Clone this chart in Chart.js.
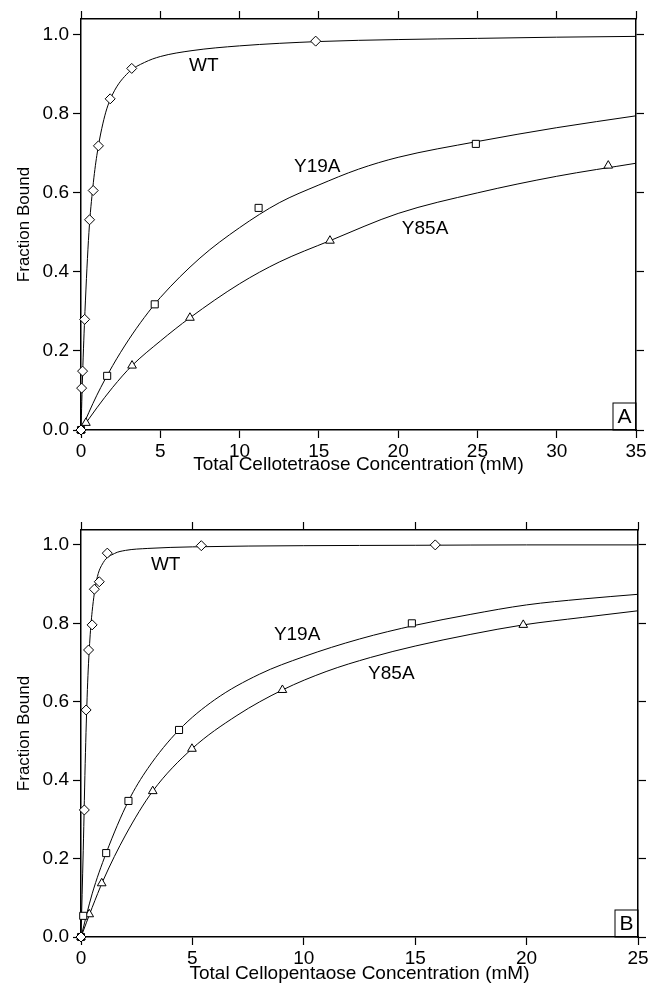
<!DOCTYPE html>
<html>
<head>
<meta charset="utf-8">
<script src="https://cdn.jsdelivr.net/npm/chart.js@4.4.0/dist/chart.umd.min.js"></script>
<style>
  body { margin:0; background:#fff; }
  .panel { position:absolute; left:0; }
</style>
</head>
<body>
<div class="panel" style="top:0px"><canvas id="chartA" width="660" height="490"></canvas></div>
<div class="panel" style="top:490px"><canvas id="chartB" width="660" height="502"></canvas></div>
<script>
// panel A - cellotetraose, measured points
const aWtX  = [0, 0.04, 0.1, 0.23, 0.54, 0.77, 1.1, 1.84, 3.2, 14.8];
const aWtY  = [0, 0.106, 0.149, 0.28, 0.532, 0.606, 0.719, 0.838, 0.915, 0.984];
const aY19X = [0, 1.65, 4.65, 11.2, 24.9];
const aY19Y = [0, 0.137, 0.318, 0.562, 0.724];
const aY85X = [0, 0.31, 3.22, 6.87, 15.7, 33.25];
const aY85Y = [0, 0.018, 0.163, 0.284, 0.479, 0.669];
// panel A fitted curves
const aWtFitX  = [0, 0.1, 0.25, 0.5, 0.75, 1, 1.5, 2, 3, 4, 5, 7, 10, 15, 20, 25, 30, 35];
const aWtFitY  = [0, 0.14, 0.3, 0.5, 0.615, 0.695, 0.795, 0.85, 0.905, 0.93, 0.945, 0.96, 0.972, 0.983, 0.988, 0.991, 0.994, 0.996];
const aY19FitX = [0, 1, 2, 3, 4, 5, 7.5, 10, 12.5, 15, 17.5, 20, 25, 30, 35];
const aY19FitY = [0, 0.088, 0.163, 0.228, 0.285, 0.335, 0.435, 0.512, 0.575, 0.62, 0.66, 0.69, 0.73, 0.765, 0.795];
const aY85FitX = [0, 1, 2, 3.22, 5, 6.87, 10, 12.5, 15.7, 20, 25, 30, 35];
const aY85FitY = [0, 0.056, 0.108, 0.163, 0.225, 0.284, 0.37, 0.425, 0.479, 0.548, 0.6, 0.642, 0.675];

// panel B - cellopentaose, measured points
const bWtX  = [0, 0.15, 0.23, 0.34, 0.5, 0.6, 0.82, 1.18, 5.4, 15.9];
const bWtY  = [0, 0.324, 0.579, 0.732, 0.796, 0.887, 0.906, 0.979, 0.998, 1.0];
const bY19X = [0, 0.1, 1.13, 2.13, 4.4, 14.85];
const bY19Y = [0, 0.054, 0.214, 0.347, 0.528, 0.8];
const bY85X = [0, 0.37, 0.93, 3.22, 4.98, 9.04, 19.85];
const bY85Y = [0, 0.058, 0.137, 0.372, 0.48, 0.63, 0.796];
// panel B fitted curves
const bWtFitX  = [0, 0.1, 0.2, 0.3, 0.4, 0.5, 0.7, 1, 1.5, 2, 3, 5, 10, 15, 20, 25];
const bWtFitY  = [0, 0.22, 0.47, 0.65, 0.76, 0.83, 0.91, 0.955, 0.978, 0.986, 0.991, 0.995, 0.998, 0.999, 1.0, 1.0];
const bY19FitX = [0, 0.5, 1.13, 2.13, 3, 4.4, 6, 8, 10, 12.5, 15, 17.5, 20, 22.5, 25];
const bY19FitY = [0, 0.11, 0.214, 0.347, 0.43, 0.528, 0.605, 0.67, 0.715, 0.76, 0.795, 0.823, 0.847, 0.862, 0.874];
const bY85FitX = [0, 0.5, 1, 2, 3.22, 4.98, 7, 9.04, 11, 13, 15, 17.5, 19.85, 22.5, 25];
const bY85FitY = [0, 0.075, 0.145, 0.26, 0.372, 0.48, 0.565, 0.63, 0.677, 0.713, 0.742, 0.772, 0.796, 0.815, 0.832];

// ticks
const yTicks  = [0, 0.2, 0.4, 0.6, 0.8, 1.0];
const xTicksA = [0, 5, 10, 15, 20, 25, 30, 35];
const xTicksB = [0, 5, 10, 15, 20, 25];
const seriesNames = ['WT', 'Y19A', 'Y85A'];

const FONT = '"Liberation Sans", Arial, Helvetica, sans-serif';
Chart.defaults.font.family = FONT;
Chart.defaults.color = '#000';

const pts = (xs, ys) => xs.map((x, i) => ({x: x, y: ys[i]}));

function markers(xs, ys, style, r) {
    return {data: pts(xs, ys), pointStyle: style, pointRadius: r, pointHoverRadius: r,
        backgroundColor: '#fff', borderColor: '#000', pointBorderWidth: 1,
        showLine: false, clip: false, order: 0};
}
function fitLine(xs, ys) {
    return {data: pts(xs, ys), showLine: true, pointRadius: 0, borderColor: '#000',
        borderWidth: 1, cubicInterpolationMode: 'monotone', order: 1};
}

const panelText = {
    id: 'panelText',
    afterDatasetsDraw(chart, args, opts) {
        const ctx = chart.ctx, xs = chart.scales.x, ys = chart.scales.y, a = chart.chartArea;
        ctx.save();
        ctx.fillStyle = '#000';
        ctx.font = '19px ' + FONT;
        ctx.textAlign = 'center';
        ctx.textBaseline = 'middle';
        opts.labels.forEach(l => ctx.fillText(l.text, xs.getPixelForValue(l.x), ys.getPixelForValue(l.y)));
        // corner letter box
        ctx.strokeStyle = '#000';
        ctx.lineWidth = 1;
        ctx.strokeRect(a.right - 23, a.bottom - 27, 23, 27);
        ctx.font = '21px ' + FONT;
        ctx.fillText(opts.letter, a.right - 11.5, a.bottom - 12.5);
        ctx.restore();
    }
};

function edgeAxis(pos, size, min, max, ticks) {
    return {type: 'linear', position: pos, min: min, max: max,
        afterBuildTicks: s => { s.ticks = ticks.map(v => ({value: v})); },
        ticks: {display: false},
        grid: {drawOnChartArea: false, drawTicks: true, tickLength: 8, tickColor: '#000', tickWidth: 1.2},
        border: {display: true, color: '#000', width: 1.5},
        afterFit: s => { if (s.isHorizontal()) s.height = size; else s.width = size; }};
}

function makeChart(id, o) {
    return new Chart(document.getElementById(id), {
        type: 'scatter',
        data: {datasets: [
            markers(o.wt[0], o.wt[1], 'rectRot', 5),
            markers(o.y19[0], o.y19[1], 'rect', 5),
            markers(o.y85[0], o.y85[1], 'triangle', 5),
            fitLine(o.wtFit[0], o.wtFit[1]),
            fitLine(o.y19Fit[0], o.y19Fit[1]),
            fitLine(o.y85Fit[0], o.y85Fit[1])
        ]},
        options: {
            responsive: false,
            animation: false,
            layout: {padding: 0},
            plugins: {legend: {display: false}, tooltip: {enabled: false},
                panelText: {labels: o.labels, letter: o.letter}},
            scales: {
                x: {type: 'linear', position: 'bottom', min: 0, max: o.xMax,
                    afterBuildTicks: s => { s.ticks = o.xTicks.map(v => ({value: v})); },
                    ticks: {font: {size: 19}, color: '#000', padding: 2, maxRotation: 0, callback: v => v},
                    grid: {drawOnChartArea: false, drawTicks: true, tickLength: 8, tickColor: '#000', tickWidth: 1.2},
                    border: {display: true, color: '#000', width: 1.5},
                    title: {display: true, text: o.xTitle, color: '#000', font: {size: 19},
                        padding: {top: 0, bottom: o.titlePad}},
                    afterFit: s => { s.height = o.bottomH; }},
                x2: edgeAxis('top', o.topH, 0, o.xMax, o.xTicks),
                y: {type: 'linear', position: 'left', min: 0, max: o.yMax,
                    afterBuildTicks: s => { s.ticks = yTicks.map(v => ({value: v})); },
                    ticks: {font: {size: 19}, color: '#000', padding: 4, callback: v => v.toFixed(1)},
                    grid: {drawOnChartArea: false, drawTicks: true, tickLength: 8, tickColor: '#000', tickWidth: 1.2},
                    border: {display: true, color: '#000', width: 1.5},
                    title: {display: true, text: 'Fraction Bound', color: '#000', font: {size: 17},
                        padding: {top: 14, bottom: 0}},
                    afterFit: s => { s.width = 81; }},
                y2: edgeAxis('right', o.rightW, 0, o.yMax, yTicks)
            }
        },
        plugins: [panelText]
    });
}

makeChart('chartA', {
    wt: [aWtX, aWtY], y19: [aY19X, aY19Y], y85: [aY85X, aY85Y],
    wtFit: [aWtFitX, aWtFitY], y19Fit: [aY19FitX, aY19FitY], y85Fit: [aY85FitX, aY85FitY],
    xMax: 35, yMax: 1.04, xTicks: xTicksA,
    xTitle: 'Total Cellotetraose Concentration (mM)',
    topH: 19, bottomH: 60, rightW: 24, titlePad: 13.5,
    letter: 'A',
    labels: [{text: seriesNames[0], x: 7.75, y: 0.922},
             {text: seriesNames[1], x: 14.9, y: 0.666},
             {text: seriesNames[2], x: 21.7, y: 0.509}]
});

makeChart('chartB', {
    wt: [bWtX, bWtY], y19: [bY19X, bY19Y], y85: [bY85X, bY85Y],
    wtFit: [bWtFitX, bWtFitY], y19Fit: [bY19FitX, bY19FitY], y85Fit: [bY85FitX, bY85FitY],
    xMax: 25, yMax: 1.038, xTicks: xTicksB,
    xTitle: 'Total Cellopentaose Concentration (mM)',
    topH: 40, bottomH: 55, rightW: 22, titlePad: 6.5,
    letter: 'B',
    labels: [{text: seriesNames[0], x: 3.8, y: 0.949},
             {text: seriesNames[1], x: 9.7, y: 0.77},
             {text: seriesNames[2], x: 13.93, y: 0.671}]
});
</script>
</body>
</html>
